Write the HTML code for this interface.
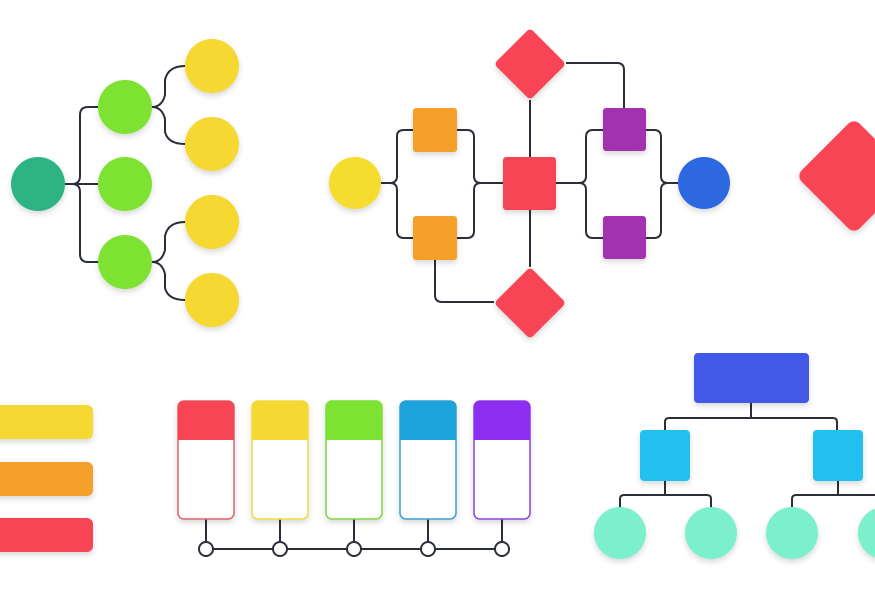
<!DOCTYPE html>
<html><head><style>
html,body{margin:0;padding:0;background:#fff;width:875px;height:614px;overflow:hidden}
</style></head><body>
<svg width="875" height="614" viewBox="0 0 875 614" xmlns="http://www.w3.org/2000/svg">
<defs>
<filter id="sh" x="-30%" y="-30%" width="160%" height="170%"><feDropShadow dx="0" dy="3" stdDeviation="3" flood-color="#000" flood-opacity="0.15"/></filter>
</defs>
<g fill="none" stroke="#2b2f3a" stroke-width="2">
<path d="M65 184 H72 Q80 184 80 176 V115 Q80 107 88 107 H98"/>
<path d="M65 184 H98"/>
<path d="M72 184 Q80 184 80 192 V254 Q80 262 88 262 H98"/>
<path d="M152 107 Q162 107 165 95 V80 Q168 66 185 66"/>
<path d="M152 107 Q162 107 165 119 V132 Q168 144 185 144"/>
<path d="M152 262 Q162 262 165 250 V236 Q168 222 185 222"/>
<path d="M152 262 Q162 262 165 274 V288 Q168 300 185 300"/>
<path d="M381 183 H390 Q397 183 397 176 V136 Q397 130 404 130 H413"/>
<path d="M390 183 Q397 183 397 190 V231 Q397 238 404 238 H413"/>
<path d="M457 130 H467 Q474 130 474 137 V176 Q474 183 481 183 H503"/>
<path d="M457 238 H467 Q474 238 474 231 V190 Q474 183 481 183"/>
<path d="M530 100 V157 M530 210 V267"/>
<path d="M566 63 H617 Q624 63 624 70 V108"/>
<path d="M435 260 V295 Q435 302 442 302 H494"/>
<path d="M556 183 H579 Q586 183 586 176 V137 Q586 130 593 130 H603"/>
<path d="M579 183 Q586 183 586 190 V231 Q586 238 593 238 H603"/>
<path d="M646 130 H654 Q661 130 661 137 V176 Q661 183 668 183 H678"/>
<path d="M646 238 H654 Q661 238 661 231 V190 Q661 183 668 183"/>
<path d="M206 519 V542 M280 519 V542 M354 519 V542 M428 519 V542 M502 519 V542"/>
<path d="M213 549 H273 M287 549 H347 M361 549 H421 M435 549 H495"/>
<path d="M751 403 V418 M665 430 V422 Q665 418 669 418 H833 Q837 418 837 422 V430"/>
<path d="M665 481 V495 M620 508 V499 Q620 495 624 495 H707 Q711 495 711 499 V508"/>
<path d="M838 481 V495 M792 508 V499 Q792 495 796 495 H875"/>
</g>
<g filter="url(#sh)">
<circle cx="38" cy="184" r="27" fill="#2db384"/>
<circle cx="125" cy="107" r="27" fill="#7ee233"/>
<circle cx="125" cy="184" r="27" fill="#7ee233"/>
<circle cx="125" cy="262" r="27" fill="#7ee233"/>
<circle cx="212" cy="66" r="27" fill="#f5d830"/>
<circle cx="212" cy="144" r="27" fill="#f5d830"/>
<circle cx="212" cy="222" r="27" fill="#f5d830"/>
<circle cx="212" cy="300" r="27" fill="#f5d830"/>

<circle cx="355" cy="183" r="26" fill="#f5dc2f"/>
<rect x="413" y="108" width="44" height="44" rx="3" fill="#f5a02a"/>
<rect x="413" y="216" width="44" height="44" rx="3" fill="#f5a02a"/>
<rect x="503" y="157" width="53" height="53" rx="3" fill="#f84556"/>
<rect x="504.5" y="38.5" width="51" height="51" rx="4" fill="#f84556" transform="rotate(45 530 64)"/>
<rect x="504.5" y="277.5" width="51" height="51" rx="4" fill="#f84556" transform="rotate(45 530 303)"/>
<rect x="603" y="108" width="43" height="43" rx="3" fill="#a232b0"/>
<rect x="603" y="216" width="43" height="43" rx="3" fill="#a232b0"/>
<circle cx="704" cy="183" r="26" fill="#2d68e0"/>

<rect x="813" y="135" width="82" height="82" rx="8" fill="#f84556" transform="rotate(45 854 176)"/>

<rect x="-10" y="405" width="103" height="34" rx="6" fill="#f5d830"/>
<rect x="-10" y="462" width="103" height="34" rx="6" fill="#f5a02a"/>
<rect x="-10" y="518" width="103" height="34" rx="6" fill="#f84556"/>
</g>
<g filter="url(#sh)" stroke-width="1.5">
<rect x="178" y="401" width="56" height="118" rx="6" fill="#fff" stroke="#e0606a"/>
<path d="M178 440 V407 Q178 401 184 401 H228 Q234 401 234 407 V440 Z" fill="#f84556"/>
<rect x="252" y="401" width="56" height="118" rx="6" fill="#fff" stroke="#f0dc40"/>
<path d="M252 440 V407 Q252 401 258 401 H302 Q308 401 308 407 V440 Z" fill="#f5d830"/>
<rect x="326" y="401" width="56" height="118" rx="6" fill="#fff" stroke="#7ed640"/>
<path d="M326 440 V407 Q326 401 332 401 H376 Q382 401 382 407 V440 Z" fill="#7ee233"/>
<rect x="400" y="401" width="56" height="118" rx="6" fill="#fff" stroke="#3aa0d0"/>
<path d="M400 440 V407 Q400 401 406 401 H450 Q456 401 456 407 V440 Z" fill="#1fa3dc"/>
<rect x="474" y="401" width="56" height="118" rx="6" fill="#fff" stroke="#8a45e0"/>
<path d="M474 440 V407 Q474 401 480 401 H524 Q530 401 530 407 V440 Z" fill="#8e2ef0"/>

<rect x="694" y="353" width="115" height="50" rx="4" fill="#4358e6"/>
<rect x="640" y="430" width="50" height="51" rx="4" fill="#22c0ee"/>
<rect x="813" y="430" width="50" height="51" rx="4" fill="#22c0ee"/>
<circle cx="620" cy="533" r="26" fill="#7cf0cc"/>
<circle cx="711" cy="533" r="26" fill="#7cf0cc"/>
<circle cx="792" cy="533" r="26" fill="#7cf0cc"/>
<circle cx="884" cy="533" r="26" fill="#7cf0cc"/>
</g>
<g fill="#fff" stroke="#2b2f3a" stroke-width="2">
<circle cx="206" cy="549" r="7"/><circle cx="280" cy="549" r="7"/><circle cx="354" cy="549" r="7"/><circle cx="428" cy="549" r="7"/><circle cx="502" cy="549" r="7"/>
</g>
</svg>
</body></html>
